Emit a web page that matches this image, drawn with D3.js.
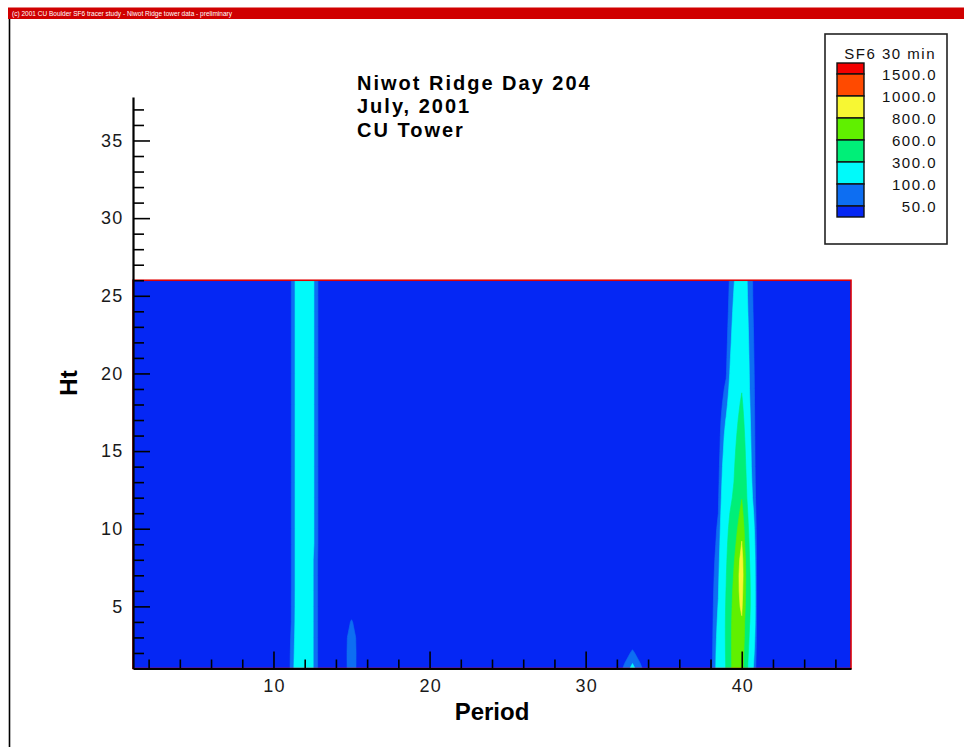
<!DOCTYPE html>
<html>
<head>
<meta charset="utf-8">
<script src="https://cdn.jsdelivr.net/npm/d3@7"></script>
<style>
  html, body { margin: 0; padding: 0; background: #ffffff; }
  svg { display: block; }
  text { font-family: "Liberation Sans", Arial, sans-serif; }
</style>
</head>
<body>
<svg id="chart" width="964" height="747"></svg>
<script>
// ---- SF6 concentration field, CU tower, Niwot Ridge day 204 ----
// Grid: half-hour periods on a 0.5 step, heights 1..26
const periodMin = 1;
const periodMax = 47;
const periodStep = 0.5;
const heights = [1, 2, 3, 4, 5, 6, 7, 8, 9, 10, 11, 12, 13, 14, 15, 16, 17, 18, 19, 20, 21, 22, 23, 24, 25, 26];
const background = 20;

// Vertical profiles (one value per height) for the periods that rise above background
const sf6_p11   = [38, 35, 30, 20, 20, 20, 20, 20, 20, 20, 20, 20, 20, 20, 20, 20, 20, 20, 20, 20, 20, 20, 20, 20, 20, 20];
const sf6_p11_5 = [140, 135, 130, 128, 126, 125, 125, 125, 125, 125, 125, 125, 125, 125, 125, 125, 125, 125, 125, 125, 125, 125, 125, 125, 125, 125];
const sf6_p12   = [240, 238, 236, 234, 232, 230, 230, 228, 228, 226, 226, 225, 225, 225, 225, 226, 226, 228, 228, 230, 230, 232, 232, 234, 234, 235];
const sf6_p12_5 = [108, 108, 108, 108, 108, 108, 108, 108, 118, 118, 118, 118, 118, 118, 118, 118, 118, 118, 118, 118, 118, 118, 118, 118, 118, 118];
const sf6_p15   = [90, 92, 85, 55, 20, 20, 20, 20, 20, 20, 20, 20, 20, 20, 20, 20, 20, 20, 20, 20, 20, 20, 20, 20, 20, 20];
const sf6_p32_5 = [60, 30, 20, 20, 20, 20, 20, 20, 20, 20, 20, 20, 20, 20, 20, 20, 20, 20, 20, 20, 20, 20, 20, 20, 20, 20];
const sf6_p33   = [120, 58, 20, 20, 20, 20, 20, 20, 20, 20, 20, 20, 20, 20, 20, 20, 20, 20, 20, 20, 20, 20, 20, 20, 20, 20];
const sf6_p33_5 = [60, 30, 20, 20, 20, 20, 20, 20, 20, 20, 20, 20, 20, 20, 20, 20, 20, 20, 20, 20, 20, 20, 20, 20, 20, 20];
const sf6_p38_5 = [140, 135, 125, 115, 105, 95, 85, 75, 65, 58, 50, 44, 38, 33, 28, 25, 22, 20, 20, 20, 20, 20, 20, 20, 20, 20];
const sf6_p39   = [310, 315, 320, 320, 315, 305, 290, 270, 250, 230, 210, 190, 175, 160, 140, 125, 105, 80, 60, 45, 40, 35, 30, 25, 22, 20];
const sf6_p39_5 = [720, 730, 730, 720, 690, 660, 620, 580, 530, 470, 400, 330, 300, 280, 260, 240, 220, 200, 180, 165, 150, 135, 125, 115, 105, 95];
const sf6_p40   = [700, 740, 770, 780, 830, 870, 900, 880, 810, 760, 680, 590, 540, 490, 450, 410, 370, 330, 290, 265, 245, 225, 210, 195, 180, 170];
const sf6_p40_5 = [175, 220, 270, 310, 330, 330, 320, 300, 270, 230, 190, 150, 135, 125, 120, 115, 110, 105, 100, 95, 90, 85, 80, 75, 72, 70];

const profiles = [
  [11, sf6_p11], [11.5, sf6_p11_5], [12, sf6_p12], [12.5, sf6_p12_5],
  [15, sf6_p15],
  [32.5, sf6_p32_5], [33, sf6_p33], [33.5, sf6_p33_5],
  [38.5, sf6_p38_5], [39, sf6_p39], [39.5, sf6_p39_5], [40, sf6_p40], [40.5, sf6_p40_5]
];

// Contour levels and fill colours (colour i fills values >= level i)
const levels = [50, 100, 300, 600, 800, 1000, 1500];
const baseColor = "#0527f4";
const levelColors = ["#0d6ef2", "#00fafa", "#00ef78", "#60f000", "#f7f733", "#ff4a00", "#f40000"];
const legendLabels = ["1500.0", "1000.0", "800.0", "600.0", "300.0", "100.0", "50.0"];

// Axis ticks
const xMajorTicks = [10, 20, 30, 40];
const xMinorTicks = [2, 4, 6, 8, 12, 14, 16, 18, 22, 24, 26, 28, 32, 34, 36, 38, 42, 44, 46];
const yMajorTicks = [5, 10, 15, 20, 25, 30, 35];
const yMinorTicks = [2, 3, 4, 6, 7, 8, 9, 11, 12, 13, 14, 16, 17, 18, 19, 21, 22, 23, 24, 26, 27, 28, 29, 31, 32, 33, 34, 36, 37];

const titleLines = ["Niwot Ridge Day 204", "July, 2001", "CU Tower"];

// ---- layout ----
const svg = d3.select("#chart");
const x = d3.scaleLinear().domain([1, 47]).range([133, 851]);
const y = d3.scaleLinear().domain([1, 37.8]).range([668.5, 97]);

// header banner and page frame line
svg.append("rect").attr("x", 8).attr("y", 7.5).attr("width", 956).attr("height", 11.5).attr("fill", "#d00000");
svg.append("text").attr("x", 12).attr("y", 16).attr("fill", "#ffffff")
  .attr("font-size", 7).attr("textLength", 220).attr("lengthAdjust", "spacingAndGlyphs")
  .text("(c) 2001 CU Boulder SF6 tracer study - Niwot Ridge tower data - preliminary");
svg.append("line").attr("x1", 9.5).attr("x2", 9.5).attr("y1", 19).attr("y2", 747)
  .attr("stroke", "#000").attr("stroke-width", 1.6);

// ---- contour field ----
const nx = Math.round((periodMax - periodMin) / periodStep) + 1;
const ny = heights.length;
const values = new Float64Array(nx * ny).fill(background);
profiles.forEach(([p, col]) => {
  const i = Math.round((p - periodMin) / periodStep);
  col.forEach((v, j) => { values[j * nx + i] = v; });
});

const hMin = heights[0];
const hStep = heights[1] - heights[0];
const project = d3.geoTransform({
  point: function (cx, cy) {
    this.stream.point(x(periodMin + (cx - 0.5) * periodStep), y(hMin + (cy - 0.5) * hStep));
  }
});
const path = d3.geoPath(project);

const x0 = x(periodMin), x1 = x(periodMax);
const yTop = y(heights[heights.length - 1]), yBot = y(hMin);

svg.append("clipPath").attr("id", "plotClip")
  .append("rect").attr("x", x0).attr("y", yTop).attr("width", x1 - x0).attr("height", yBot - yTop);

const field = svg.append("g").attr("clip-path", "url(#plotClip)");
field.append("rect").attr("x", x0).attr("y", yTop).attr("width", x1 - x0).attr("height", yBot - yTop)
  .attr("fill", baseColor);

const contours = d3.contours().size([nx, ny]).thresholds(levels)(values);
field.selectAll("path.band").data(contours).join("path")
  .attr("class", "band")
  .attr("d", path)
  .attr("fill", (d, i) => levelColors[i])
  .attr("stroke", (d, i) => levelColors[i])
  .attr("stroke-width", 0.6);

// red data frame
svg.append("rect").attr("x", x0).attr("y", yTop).attr("width", x1 - x0).attr("height", yBot - yTop)
  .attr("fill", "none").attr("stroke", "#e00000").attr("stroke-width", 1.6);

// ---- axes ----
const axisFont = "18px";
const yAxisG = svg.append("g").attr("transform", `translate(${x0},0)`);
yAxisG.call(d3.axisLeft(y).tickValues(yMinorTicks).tickSizeInner(-11).tickSizeOuter(0).tickFormat(""));
yAxisG.call(g => g.selectAll(".domain").remove());
const yMajorG = svg.append("g").attr("transform", `translate(${x0},0)`)
  .call(d3.axisLeft(y).tickValues(yMajorTicks).tickSizeInner(-17).tickSizeOuter(0).tickPadding(11).tickFormat(d3.format("d")));

const xAxisG = svg.append("g").attr("transform", `translate(0,${yBot})`);
xAxisG.call(d3.axisBottom(x).tickValues(xMinorTicks).tickSizeInner(-9).tickSizeOuter(0).tickFormat(""));
xAxisG.call(g => g.selectAll(".domain").remove());
const xMajorG = svg.append("g").attr("transform", `translate(0,${yBot})`)
  .call(d3.axisBottom(x).tickValues(xMajorTicks).tickSizeInner(-17).tickSizeOuter(0).tickPadding(11).tickFormat(d3.format("d")));

[yAxisG, yMajorG, xAxisG, xMajorG].forEach(g => {
  g.selectAll(".tick line").attr("stroke", "#000").attr("stroke-width", 1.6);
  g.selectAll(".domain").attr("stroke", "#000").attr("stroke-width", 2.2);
  g.selectAll(".tick text").attr("fill", "#1a1a1a").attr("font-size", axisFont)
    .attr("font-family", "'Liberation Sans', Arial, sans-serif").attr("letter-spacing", "1.2px");
});
xMajorG.selectAll(".tick text").attr("dx", "0.6px");
yMajorG.selectAll(".tick text").attr("x", -9.5);

// axis titles
svg.append("text").attr("x", 492).attr("y", 720).attr("text-anchor", "middle")
  .attr("font-size", 24).attr("font-weight", "bold").attr("fill", "#000").text("Period");
svg.append("text").attr("transform", "translate(77,383) rotate(-90)").attr("text-anchor", "middle")
  .attr("font-size", 24).attr("font-weight", "bold").attr("fill", "#000").text("Ht");

// ---- title ----
const titleY = [89.5, 112.5, 137];
svg.append("g").selectAll("text").data(titleLines).join("text")
  .attr("x", 357).attr("y", (d, i) => titleY[i])
  .attr("font-size", 20).attr("font-weight", "bold").attr("letter-spacing", "2px")
  .attr("fill", "#000").text(d => d);

// ---- legend ----
const legend = svg.append("g");
legend.append("rect").attr("x", 825).attr("y", 34).attr("width", 122).attr("height", 210)
  .attr("fill", "#fff").attr("stroke", "#222").attr("stroke-width", 1.6);
legend.append("text").attr("x", 936).attr("y", 59).attr("text-anchor", "end")
  .attr("font-size", 15).attr("letter-spacing", "1.5px").attr("fill", "#111").text("SF6 30 min");

const swTop = 63, swFull = 22, swHalf = 11, swX = 837, swW = 27;
const boundaries = legendLabels.map((d, i) => swTop + swHalf + i * swFull);
const swatchColors = levelColors.slice().reverse().concat([baseColor]);
const swatchEdges = [swTop].concat(boundaries, [boundaries[boundaries.length - 1] + swHalf]);
legend.selectAll("rect.sw").data(swatchColors).join("rect")
  .attr("class", "sw")
  .attr("x", swX).attr("y", (d, i) => swatchEdges[i])
  .attr("width", swW).attr("height", (d, i) => swatchEdges[i + 1] - swatchEdges[i])
  .attr("fill", d => d).attr("stroke", "#111").attr("stroke-width", 1.4);
legend.selectAll("text.lab").data(legendLabels).join("text")
  .attr("class", "lab")
  .attr("x", 937).attr("y", (d, i) => boundaries[i] + 5.5)
  .attr("text-anchor", "end").attr("font-size", 15).attr("letter-spacing", "1.5px")
  .attr("fill", "#111").text(d => d);
</script>
</body>
</html>
